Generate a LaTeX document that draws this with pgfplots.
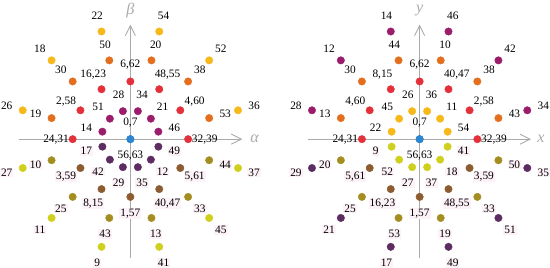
\documentclass[border=0pt]{standalone}
\usepackage{fontspec}
\setmainfont{Liberation Serif}
\usepackage{pgfplots}
\pgfplotsset{compat=1.18}
\usetikzlibrary{arrows.meta}

\definecolor{cyel}{HTML}{F7B81A}
\definecolor{corg}{HTML}{E36F1E}
\definecolor{cred}{HTML}{E3303A}
\definecolor{cmag}{HTML}{9C1C6C}
\definecolor{cpur}{HTML}{5C2C62}
\definecolor{cbrn}{HTML}{8C5B2F}
\definecolor{coli}{HTML}{A48E22}
\definecolor{cygr}{HTML}{CFCF1E}
\definecolor{cblu}{HTML}{2D86D0}
\definecolor{axgray}{HTML}{AAAAAA}

\tikzset{axt/.style={text=axgray, font=\fontsize{16}{16}\selectfont\itshape}}
\pgfplotsset{
  pts/.style={only marks, mark=*, mark size=3.7pt, color=#1,
    nodes near coords, point meta=explicit symbolic,
    visualization depends on={value \thisrow{a} \as \ang},
    nodes near coords style={anchor=center, text=black,
      font=\fontsize{11.3}{12}\selectfont, inner sep=1pt,
      xshift={16.5pt*cos(\ang)}, yshift={16.5pt*sin(\ang)}}},
  ptsb/.style={pts=#1, nodes near coords style={fill=magenta!5}},
  panel/.style={hide axis, clip=false, x=28.7pt, y=28.7pt,
    ymin=-4.61, ymax=4.90, anchor=south west},
  axl/.style={axgray, line width=1.1pt, -{Straight Barb[length=10pt,width=10pt,line width=0.9pt]}},
}

\begin{document}
\begin{tikzpicture}
% left panel
\begin{axis}[panel, xmin=-4.59, xmax=4.99, at={(0pt,0pt)}]
\addplot[axl] coordinates {(-3.87,0) (3.88,0)};
\addplot[axl] coordinates {(0,-4.1) (0,3.97)};
\node[axt] at (axis cs:4.3,0) {α};
\node[axt] at (axis cs:0,4.45) {β};
% ring 4, upper
\addplot[pts=cyel] table[meta=l] {
x y a l
3.73 1 15 36
2.73 2.73 45 52
1 3.73 75 54
-1 3.73 105 22
-2.73 2.73 135 18
-3.73 1 165 26
};
% ring 3, upper
\addplot[pts=corg] table[meta=l] {
x y a l
2.73 0.73 15 53
2 2 45 38
0.73 2.73 75 20
-0.73 2.73 105 50
-2 2 135 30
-2.73 0.73 165 19
};
% ring 2, upper
\addplot[pts=cred] table[meta=l] {
x y a l
2 0 0 32,39
1.73 1 30 4,60
1 1.73 60 48,55
0 2 90 6,62
-1 1.73 120 16,23
-1.73 1 150 2,58
-2 0 180 24,31
};
% ring 1, upper
\addplot[pts=cmag] table[meta=l] {
x y a l
0.97 0.26 15 46
0.71 0.71 45 21
0.26 0.97 75 34
-0.26 0.97 105 28
-0.71 0.71 135 51
-0.97 0.26 165 14
};
% ring 1, lower
\addplot[ptsb=cpur] table[meta=l] {
x y a l
-0.97 -0.26 195 17
-0.71 -0.71 225 42
-0.26 -0.97 255 29
0.26 -0.97 285 35
0.71 -0.71 315 12
0.97 -0.26 345 49
};
% ring 2, lower
\addplot[ptsb=cbrn] table[meta=l] {
x y a l
-1.73 -1 210 3,59
-1 -1.73 240 8,15
0 -2 270 1,57
1 -1.73 300 40,47
1.73 -1 330 5,61
};
% ring 3, lower
\addplot[ptsb=coli] table[meta=l] {
x y a l
-2.73 -0.73 195 10
-2 -2 225 25
-0.73 -2.73 255 43
0.73 -2.73 285 13
2 -2 315 33
2.73 -0.73 345 44
};
% ring 4, lower
\addplot[ptsb=cygr] table[meta=l] {
x y a l
-3.73 -1 195 27
-2.73 -2.73 225 11
-1 -3.73 255 9
1 -3.73 285 41
2.73 -2.73 315 45
3.73 -1 345 37
};
% centre
\addplot[pts=cblu] table[meta=l] {
x y a l
0 0 90 0,7
0 0 270 56,63
};
\end{axis}

% right panel
\begin{axis}[panel, xmin=-5.03, xmax=4.55, at={(275pt,0pt)}]
\addplot[axl] coordinates {(-3.87,0) (3.86,0)};
\addplot[axl] coordinates {(0,-4.1) (0,3.97)};
\node[axt] at (axis cs:4.2,0) {x};
\node[axt] at (axis cs:0,4.45) {y};
\addplot[pts=cmag] table[meta=l] {
x y a l
3.73 1 15 34
2.73 2.73 45 42
1 3.73 75 46
-1 3.73 105 14
-2.73 2.73 135 12
-3.73 1 165 28
};
\addplot[pts=corg] table[meta=l] {
x y a l
2.73 0.73 15 43
2 2 45 38
0.73 2.73 75 10
-0.73 2.73 105 44
-2 2 135 30
-2.73 0.73 165 13
};
\addplot[pts=cred] table[meta=l] {
x y a l
2 0 0 32,39
1.73 1 30 2,58
1 1.73 60 40,47
0 2 90 6,62
-1 1.73 120 8,15
-1.73 1 150 4,60
-2 0 180 24,31
};
\addplot[pts=cyel] table[meta=l] {
x y a l
0.97 0.26 15 54
0.71 0.71 45 11
0.26 0.97 75 36
-0.26 0.97 105 26
-0.71 0.71 135 45
-0.97 0.26 165 22
};
\addplot[ptsb=cygr] table[meta=l] {
x y a l
-0.97 -0.26 195 9
-0.71 -0.71 225 52
-0.26 -0.97 255 27
0.26 -0.97 285 37
0.71 -0.71 315 18
0.97 -0.26 345 41
};
\addplot[ptsb=cbrn] table[meta=l] {
x y a l
-1.73 -1 210 5,61
-1 -1.73 240 16,23
0 -2 270 1,57
1 -1.73 300 48,55
1.73 -1 330 3,59
};
\addplot[ptsb=coli] table[meta=l] {
x y a l
-2.73 -0.73 195 20
-2 -2 225 25
-0.73 -2.73 255 53
0.73 -2.73 285 19
2 -2 315 33
2.73 -0.73 345 50
};
\addplot[ptsb=cpur] table[meta=l] {
x y a l
-3.73 -1 195 29
-2.73 -2.73 225 21
-1 -3.73 255 17
1 -3.73 285 49
2.73 -2.73 315 51
3.73 -1 345 35
};
\addplot[pts=cblu] table[meta=l] {
x y a l
0 0 90 0,7
0 0 270 56,63
};
\end{axis}
\end{tikzpicture}
\end{document}
